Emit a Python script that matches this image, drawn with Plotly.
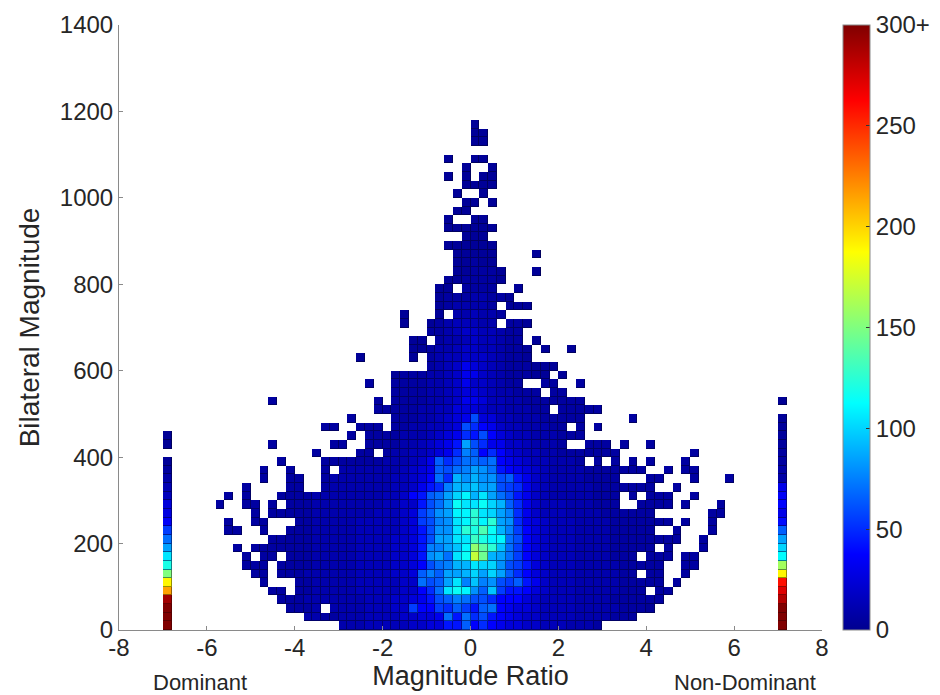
import plotly.graph_objects as go

# Count per cell, bottom row first. One character per 0.2-wide magnitude-ratio bin
# (groups of ten), '.' = empty, otherwise a base-36 level.
count_rows = [
".......... .......... .....33344 444556699d 8a87665544 43332..... .......... ..........",
".......... .......... .332233344 4455667e9e ac98765544 443333222. .......... ..........",
".......... .........2 223.333344 455b88badb 9de8766544 4433333222 1......... ..........",
".......... ........22 2333333344 455679cdfe cca8886544 4433332222 22........ ..........",
".......... .......22. 2233333444 44558aelnm gdjb998654 4433333222 .22....... ..........",
".......... ......2... 2233333444 4455ecdhlf jfgcbd9754 4433333222 22.2...... ..........",
".......... .....22.22 2333333444 4556dfdhhi khkhda8654 443333322. 22..2..... ..........",
".......... ....222.22 2233333444 45568cefii lkkgcb9654 4433333222 22..22.... ..........",
".......... ....2.22.2 2233333444 45569gheln ytiheb8654 443333222. 222.22.... ..........",
".......... ...2.22222 2233333444 45569ffhjm vspjeb8654 4433332222 2.2...2... ..........",
".......... .......222 2233333444 45569chhll qommec8654 4433332222 2222..2... ..........",
".......... ..22..2..2 2233333444 44569cgglp ornifb8654 4433332222 2..2...2.. ..........",
".......... ..2..22... 2233333444 4456bcfglm pmphga7654 4433332222 222.2..2.. ..........",
".......... .....2.222 2233333334 4456bdghmm plkhfa7544 4333322222 2......22. ..........",
".......... .2..22.2.2 2233333333 44559cehnl lnkida7544 4333222..2 222.2...2. ..........",
".......... ..2.2...22 2233333333 44589dehkm ilhec97543 3333222.2. 222..2.... ..........",
".......... ....2....2 2..2333333 344579afii jhhcba7543 3333222222 2..2...... ..........",
".......... ......2..2 2..2333333 344568eaig iggcd97543 3332222... 22...2...2 ..........",
".......... ......2..2 ...2.33333 334567dcef hge9876543 3332222222 ..2.22.... ..........",
".......... ........2. ...2222222 333457dace ede8765443 332.2.2.2. 2...2..... ..........",
".......... .......... ..2....22. 23344567af d8a8654433 2222222... .....2.... ..........",
".......... .......2.. ....22..22 223345679h ca77554333 2..222.2.. 2......... ..........",
".......... .......... ......2.22 223334567a 9c86544333 222....... .......... ..........",
".......... .......... ...22..222 .22334456c a875443332 2.2.2..... .......... ..........",
".......... .......... ......2... .222334567 c664433322 222.....2. .......... ..........",
".......... .......... .........2 2222334466 654433322. 22222..... .......... ..........",
".......... .......2.. .........2 .222233457 7644332222 222....... .......... ..........",
".......... .......... .......... .222233456 65433222.2 2......... .......... ..........",
".......... .......... ........2. .222233457 554322..22 ..2....... .......... ..........",
".......... .......... .......... .122233457 754322211. 1......... .......... ..........",
".......... .......... .......... .....23457 6543222111 .......... .......... ..........",
".......... .......... .......1.. ...1.23445 5543221... .......... .......... ..........",
".......... .......... .......... ...1123345 5443221.1. .1........ .......... ..........",
".......... .......... .......... ...11.2334 544322.1.. .......... .......... ..........",
".......... .......... .......... .....22345 544322.... .......... .......... ..........",
".......... .......... .......... ..1..12344 433.221... .......... .......... ..........",
".......... .......... .......... ..1...1.33 4332...... .......... .......... ..........",
".......... .......... .......... ......1233 332.111... .......... .......... ..........",
".......... .......... .......... ......1222 33221..... .......... .......... ..........",
".......... .......... .......... ......11.2 222..1.... .......... .......... ..........",
".......... .......... .......... .......112 2221...... .......... .......... ..........",
".......... .......... .......... ........11 2221...1.. .......... .......... ..........",
".......... .......... .......... ........11 211....... .......... .......... ..........",
".......... .......... .......... ........11 111....1.. .......... .......... ..........",
".......... .......... .......... .......111 111....... .......... .......... ..........",
".......... .......... .......... .........1 11........ .......... .......... ..........",
".......... .......... .......... .......111 111....... .......... .......... ..........",
".......... .......... .......... .......1.. 11........ .......... .......... ..........",
".......... .......... .......... ........11 .......... .......... .......... ..........",
".......... .......... .......... .........1 1.1....... .......... .......... ..........",
".......... .......... .......... ........1. .1........ .......... .......... ..........",
".......... .......... .......... .........1 111....... .......... .......... ..........",
".......... .......... .......... .......1.1 .11....... .......... .......... ..........",
".......... .......... .......... .........1 ..1....... .......... .......... ..........",
".......... .......... .......... .......1.. 11........ .......... .......... ..........",
".......... .......... .......... .......... .......... .......... .......... ..........",
".......... .......... .......... .......... 11........ .......... .......... ..........",
".......... .......... .......... .......... 11........ .......... .......... ..........",
".......... .......... .......... .......... 1......... .......... .......... ..........",
]

# Counts for the lowest levels; higher levels count five per step
low_level_counts = {1: 3, 2: 6, 3: 10, 4: 14, 5: 19, 6: 25, 7: 31, 8: 37, 9: 43}

# One-sided columns, bottom bin first (None = empty bin)
dominant_counts = [330, 330, 320, 290, 215, 190, 150, 120, 105, 85, 70, 55, 35, 27,
                   25, 15, 12, 8, 5, 3, None, 2, 2]
non_dominant_counts = [330, 320, 310, 285, 272, 258, 190, 160, 112, 100, 85, 65, 40, 30,
                       38, 35, 30, 8, 8, 6, 6, 5, 4, 4, 3, None, 2]

bin_width_x = 0.2
bin_height_y = 20
n_columns = 80
n_rows = 70
dominant_column = 5
non_dominant_column = 75

x_ticks = [-8, -6, -4, -2, 0, 2, 4, 6, 8]
y_ticks = [0, 200, 400, 600, 800, 1000, 1200, 1400]
bar_ticks = [0, 50, 100, 150, 200, 250, 300]
bar_labels = ["0", "50", "100", "150", "200", "250", "300+"]

jet = [
    [0.0, "rgb(0,0,143)"], [0.125, "rgb(0,0,255)"], [0.375, "rgb(0,255,255)"],
    [0.625, "rgb(255,255,0)"], [0.875, "rgb(255,0,0)"], [1.0, "rgb(128,0,0)"],
]
jet_edge = [
    [0.0, "rgb(0,0,90)"], [0.125, "rgb(0,0,150)"], [0.375, "rgb(0,130,150)"],
    [0.625, "rgb(150,150,0)"], [0.875, "rgb(150,0,0)"], [1.0, "rgb(90,0,0)"],
]

z = [[None] * n_columns for _ in range(n_rows)]
for r, row in enumerate(count_rows):
    for c, ch in enumerate(row.replace(" ", "")):
        if ch != ".":
            level = int(ch, 36)
            z[r][c] = low_level_counts.get(level, level * 5)
for r, v in enumerate(dominant_counts):
    z[r][dominant_column] = v
for r, v in enumerate(non_dominant_counts):
    z[r][non_dominant_column] = v

xc = [-8 + bin_width_x * (c + 0.5) for c in range(n_columns)]
yc = [bin_height_y * (r + 0.5) for r in range(n_rows)]

FONT = "Liberation Sans, Arial, sans-serif"
TXT = "#262626"
LINE = "#8a8a8a"

fig = go.Figure()
fig.add_trace(go.Heatmap(x=xc, y=yc, z=z, zmin=0, zmax=300, showscale=False,
                         colorscale=jet_edge, hoverinfo="skip"))
fig.add_trace(go.Heatmap(
    x=xc, y=yc, z=z, zmin=0, zmax=300, colorscale=jet, xgap=1, ygap=1,
    colorbar=dict(
        x=1.03, xanchor="left", y=0, yanchor="bottom", len=1, ypad=0, xpad=0,
        thickness=27, outlinecolor=LINE, outlinewidth=1,
        tickmode="array", tickvals=bar_ticks, ticktext=bar_labels,
        ticks="inside", ticklen=4, tickcolor="#333333",
        tickfont=dict(family=FONT, size=24, color=TXT),
    ),
))
fig.update_layout(
    width=932, height=687, autosize=False,
    margin=dict(l=111, r=118, t=17, b=65, pad=0, autoexpand=False),
    paper_bgcolor="white", plot_bgcolor="white", showlegend=False,
    font=dict(family=FONT, color=TXT),
    xaxis=dict(range=[-8, 8], tickmode="array", tickvals=x_ticks,
               ticktext=[str(v) for v in x_ticks], ticks="inside", ticklen=4,
               tickcolor=LINE, showgrid=False, zeroline=False, showline=True,
               linecolor=LINE, linewidth=1, tickfont=dict(size=24), ticklabelstandoff=-4,
               title=dict(text="Magnitude Ratio", font=dict(size=27), standoff=2)),
    yaxis=dict(range=[0, 1400], tickmode="array", tickvals=y_ticks, ticks="inside",
               ticklen=4, tickcolor=LINE, showgrid=False, zeroline=False, showline=True,
               linecolor=LINE, linewidth=1, tickfont=dict(size=24),
               title=dict(text="Bilateral Magnitude", font=dict(size=28), standoff=12)),
    annotations=[
        dict(text="Dominant", xref="paper", yref="paper", x=0.115, y=-0.0876,
             yanchor="middle", showarrow=False, font=dict(size=22, color=TXT), xanchor="center"),
        dict(text="Non-Dominant", xref="paper", yref="paper", x=0.89, y=-0.0876,
             yanchor="middle", showarrow=False, font=dict(size=22, color=TXT), xanchor="center"),
    ],
)
fig.write_html("out.html")
